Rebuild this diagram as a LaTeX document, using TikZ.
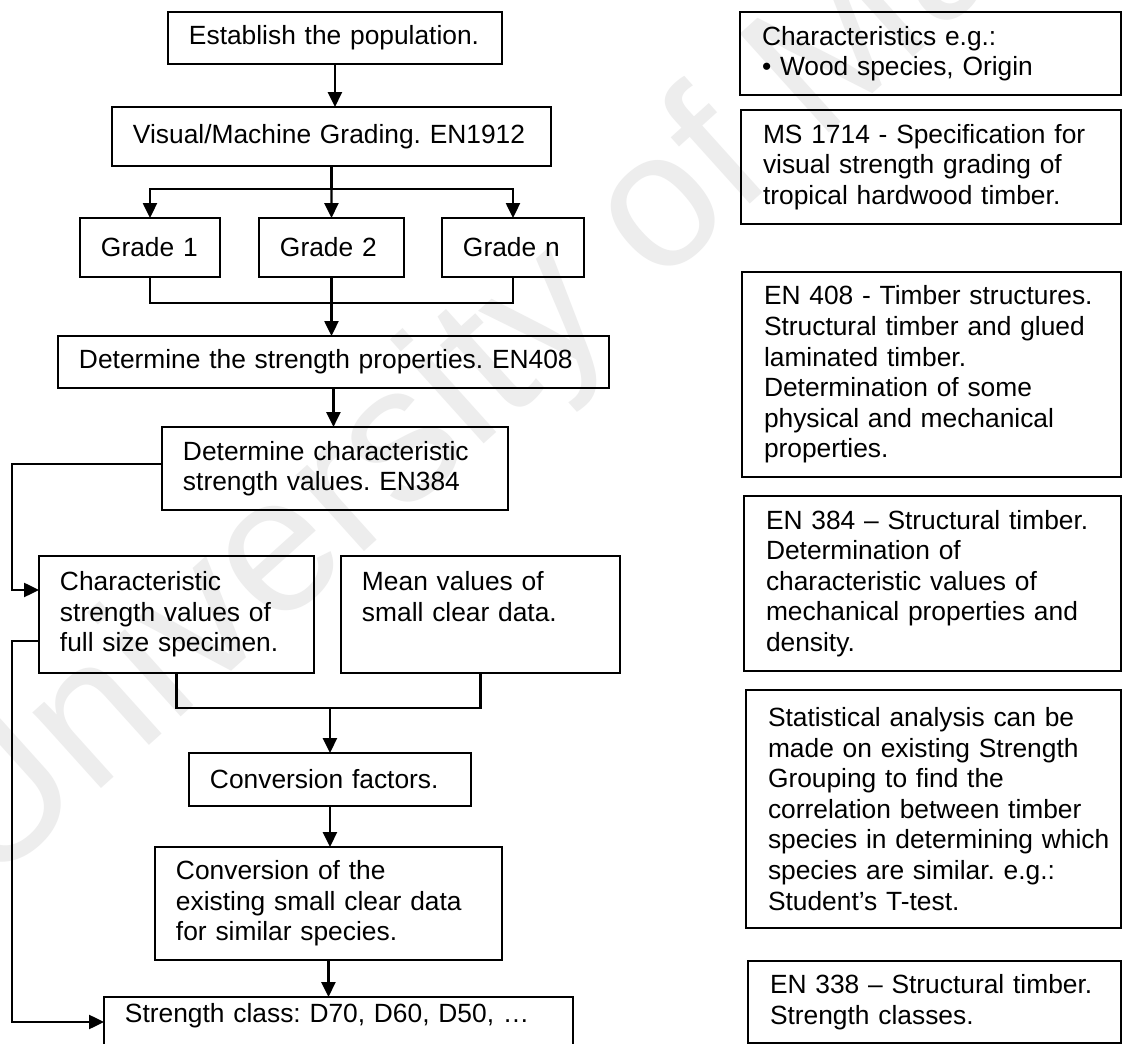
\documentclass[tikz,border=0pt]{standalone}
\usepackage{fontspec}
\setmainfont{Liberation Sans}
\usetikzlibrary{arrows.meta}
\frenchspacing

\tikzset{
  box/.style={draw, line width=1pt, rectangle, anchor=north west, align=left,
    inner xsep=0.42cm, inner ysep=2pt, outer sep=0pt,
    font=\fontsize{15}{17.4}\selectfont},
  note/.style={box, inner xsep=0.44cm},
  arr/.style={line width=1.2pt, -{Triangle[length=8.5pt,width=8pt]}},
  link/.style={line width=1.2pt}
}

\begin{document}
\begin{tikzpicture}[x=0.02cm, y=-0.02cm]
        \useasboundingbox (0,0) rectangle (1123,1044);
        \clip (0,0) rectangle (1123,1044);
        \fill[white] (0,0) rectangle (1123,1044);
        \node[rotate=42, anchor=base west, text=gray!14, font=\fontsize{110}{110}\selectfont] (wmark) at (-17,895) {University of Malaya};

        \node[box, text width=5.84cm, minimum height=1.04cm] (est) at (168,12) {Establish~the~population.};
        \node[box, text width=7.94cm, minimum height=1.18cm] (grading) at (112,107) {Visual/Machine~Grading.~EN1912};
        \node[box, text width=1.96cm, minimum height=1.18cm] (g1) at (80,218) {Grade~1};
        \node[box, text width=2.06cm, minimum height=1.18cm] (g2) at (259,218) {Grade~2};
        \node[box, text width=2.0cm, minimum height=1.18cm] (gn) at (442,218) {Grade~n};
        \node[box, text width=10.18cm, minimum height=1.04cm] (props) at (58,336) {Determine the strength properties. EN408};
        \node[box, text width=6.08cm, minimum height=1.66cm] (charv) at (162,427) {Determine characteristic\\strength values. EN384};
        \node[box, text width=4.66cm, minimum height=2.34cm] (charfs) at (39,556) {Characteristic\\strength values of\\full size specimen.};
        \node[box, text width=4.74cm, minimum height=2.34cm] (mean) at (341,556) {Mean values of\\small clear data.\\\vphantom{p}};
        \node[box, text width=4.8cm, minimum height=1.06cm] (convf) at (189,753) {Conversion~factors.};
        \node[box, text width=6.1cm, minimum height=2.26cm] (convd) at (155,847) {Conversion of the\\existing small clear data\\for similar species.};
        \node[box, text width=8.54cm, minimum height=1.34cm] (sclass) at (104,997) {Strength class: D70, D60, D50, …\\\vphantom{p}};

        \node[note, text width=6.74cm, minimum height=1.66cm] (chars) at (740,12) {Characteristics e.g.:\\• Wood species, Origin};
        \node[note, text width=6.72cm, minimum height=2.28cm] (ms) at (741,110) {MS 1714 - Specification for\\visual strength grading of\\tropical hardwood timber.};
        \node[note, text width=6.7cm, minimum height=4.1cm] (en408) at (742,272) {EN 408 - Timber structures.\\Structural timber and glued\\laminated timber.\\Determination of some\\physical and mechanical\\properties.};
        \node[note, text width=6.66cm, minimum height=3.5cm] (en384) at (744,496) {EN 384 – Structural timber.\\Determination of\\characteristic values of\\mechanical properties and\\density.};
        \node[note, text width=6.62cm, minimum height=4.76cm] (stats) at (746,690) {Statistical analysis can be\\made on existing Strength\\Grouping to find the\\correlation between timber\\\mbox{species in determining which}\\species are similar. e.g.:\\Student’s T-test.};
        \node[note, text width=6.58cm, minimum height=1.64cm] (en338) at (748,961) {EN 338 – Structural timber.\\Strength classes.};

        \draw[arr] (est.south) -- (est.south |- grading.north);
        \coordinate (split) at ([yshift=-0.46cm]grading.south);
        \draw[link] (grading.south) -- (split);
        \draw[arr] (split) -| (g1);
        \draw[arr] (split) -- (g2);
        \draw[arr] (split) -| (gn);
        \coordinate (join1) at ([yshift=-0.52cm]g2.south);
        \draw[link] (g1.south) |- (join1) -| (gn.south);
        \draw[arr] (g2.south) -- (g2.south |- props.north);
        \draw[arr] (props.south) -- (props.south |- charv.north);
        \draw[arr] ([yshift=0.09cm]charv.west) -- ++(-150,0) |- ([yshift=0.49cm]charfs.west);
        \draw[arr] ([yshift=-0.53cm]charfs.west) -- ++(-27,0) |- ([yshift=0.17cm]sclass.west);
        \coordinate (join2) at ([yshift=-0.7cm]charfs.south);
        \draw[link] (charfs.south) -- (join2) -| (mean.south);
        \draw[arr] (join2 -| convf.north) -- (convf.north);
        \draw[arr] (convf.south) -- (convf.south |- convd.north);
        \draw[arr] (convd.south) -- (convd.south |- sclass.north);
      \end{tikzpicture}
\end{document}
